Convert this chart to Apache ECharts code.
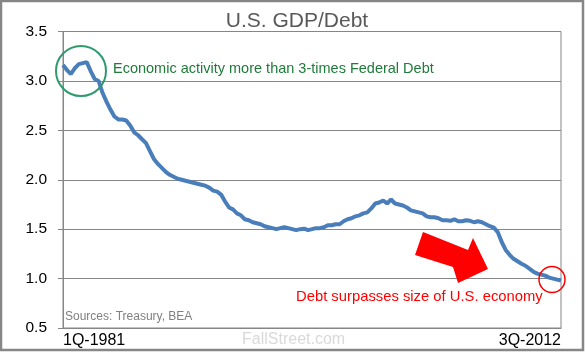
<!DOCTYPE html>
<html>
<head>
<meta charset="utf-8">
<script src="https://cdn.jsdelivr.net/npm/echarts@6/dist/echarts.min.js"></script>
<style>
  html, body { margin: 0; padding: 0; background: #fff; }
  #chart { width: 585px; height: 353px; }
</style>
</head>
<body>
<div id="chart"></div>
<script>
// quarters 1Q-1981 .. 3Q-2012
const quarters = [];
for (let y = 1981; y <= 2012; y++) {
  for (let q = 1; q <= 4; q++) {
    if (y === 2012 && q > 3) break;
    quarters.push(q + "Q-" + y);
  }
}

// GDP / federal debt ratio
const gdpDebt = [
  3.16, 3.11, 3.07, 3.13, 3.17, 3.18, 3.19, 3.10, 3.02, 3.00,
  2.88, 2.79, 2.71, 2.64, 2.61, 2.61, 2.60, 2.55, 2.48, 2.45,
  2.41, 2.37, 2.29, 2.21, 2.16, 2.12, 2.08, 2.05, 2.03, 2.01,
  2.00, 1.99, 1.98, 1.97, 1.96, 1.95, 1.94, 1.92, 1.89, 1.88,
  1.85, 1.78, 1.72, 1.70, 1.66, 1.64, 1.60, 1.59, 1.57, 1.56,
  1.55, 1.53, 1.52, 1.51, 1.50, 1.51, 1.52, 1.51, 1.50, 1.49,
  1.50, 1.505, 1.49, 1.50, 1.51, 1.51, 1.52, 1.54, 1.54, 1.55,
  1.55, 1.58, 1.60, 1.61, 1.63, 1.64, 1.66, 1.67, 1.71, 1.76,
  1.77, 1.79, 1.76, 1.80, 1.76, 1.75, 1.74, 1.72, 1.69, 1.68,
  1.67, 1.66, 1.63, 1.62, 1.62, 1.61, 1.59, 1.59, 1.585, 1.60,
  1.58, 1.58, 1.59, 1.585, 1.57, 1.58, 1.57, 1.55, 1.53, 1.515,
  1.47, 1.37, 1.29, 1.24, 1.20, 1.175, 1.15, 1.13, 1.10, 1.07,
  1.05, 1.04, 1.03, 1.01, 1.00, 0.99, 0.98
];

const yTicks = [0.5, 1.0, 1.5, 2.0, 2.5, 3.0, 3.5];

const chart = echarts.init(document.getElementById("chart"));
const font = "Liberation Sans, Arial, sans-serif";

chart.setOption({
  backgroundColor: "#fff",
  animation: false,
  title: {
    text: "U.S. GDP/Debt",
    left: 292,
    textAlign: "center",
    top: 6,
    textStyle: { fontFamily: font, fontSize: 21, fontWeight: "normal", color: "#595959" }
  },
  grid: { left: 63, right: 24, top: 31.5, bottom: 25, show: true, borderColor: "#868686", borderWidth: 1 },
  xAxis: {
    type: "category",
    data: quarters,
    boundaryGap: false,
    axisLine: { lineStyle: { color: "#868686" } },
    axisTick: { show: false },
    axisLabel: {
      interval: (i) => i === 0 || i === quarters.length - 1,
      alignMinLabel: "left",
      alignMaxLabel: "right",
      margin: 5,
      fontFamily: font,
      fontSize: 16,
      color: "#000"
    },
    splitLine: { show: false }
  },
  yAxis: {
    type: "value",
    min: yTicks[0],
    max: yTicks[yTicks.length - 1],
    interval: 0.5,
    axisLine: { show: true, lineStyle: { color: "#868686" } },
    axisTick: { show: true, length: 5, lineStyle: { color: "#868686" } },
    axisLabel: {
      margin: 16,
      fontFamily: font,
      fontSize: 15.5,
      color: "#000",
      formatter: (v) => v.toFixed(1)
    },
    splitLine: { lineStyle: { color: "#868686", width: 1 } }
  },
  series: [{
    type: "line",
    data: gdpDebt,
    showSymbol: false,
    lineStyle: { color: "#4a7ebb", width: 4 },
    z: 3
  }],
  graphic: [
    // outer frame
    { type: "rect", shape: { x: 1, y: 1, width: 582, height: 349 }, style: { fill: null, stroke: "#868686", lineWidth: 2.5 } },
    // green circle + note
    { type: "circle", shape: { cx: 81, cy: 71, r: 25 }, style: { fill: null, stroke: "#2e9a6e", lineWidth: 2 }, z: 10 },
    { type: "text", left: 113, top: 61, style: { text: "Economic activity more than 3-times Federal Debt", fontFamily: font, fontSize: 14.5, fill: "#1e7b3a" } },
    // red arrow
    { type: "polygon", shape: { points: [[423, 232], [468, 250], [473, 238], [488, 269], [458, 283], [453, 267], [415, 255]] }, style: { fill: "#ff0000" }, z: 10 },
    { type: "circle", shape: { cx: 552, cy: 279.5, r: 13 }, style: { fill: null, stroke: "#ff0000", lineWidth: 1.5 }, z: 10 },
    { type: "text", left: 296, top: 289, style: { text: "Debt surpasses size of U.S. economy", fontFamily: font, fontSize: 14.8, fill: "#ff0000" } },
    // sources + watermark
    { type: "text", left: 65, top: 311, style: { text: "Sources: Treasury, BEA", fontFamily: font, fontSize: 12, fill: "#808080" } },
    { type: "text", left: 242, top: 332, style: { text: "FallStreet.com", fontFamily: font, fontSize: 16, fill: "#d9d9d9" } }
  ]
});
</script>
</body>
</html>
